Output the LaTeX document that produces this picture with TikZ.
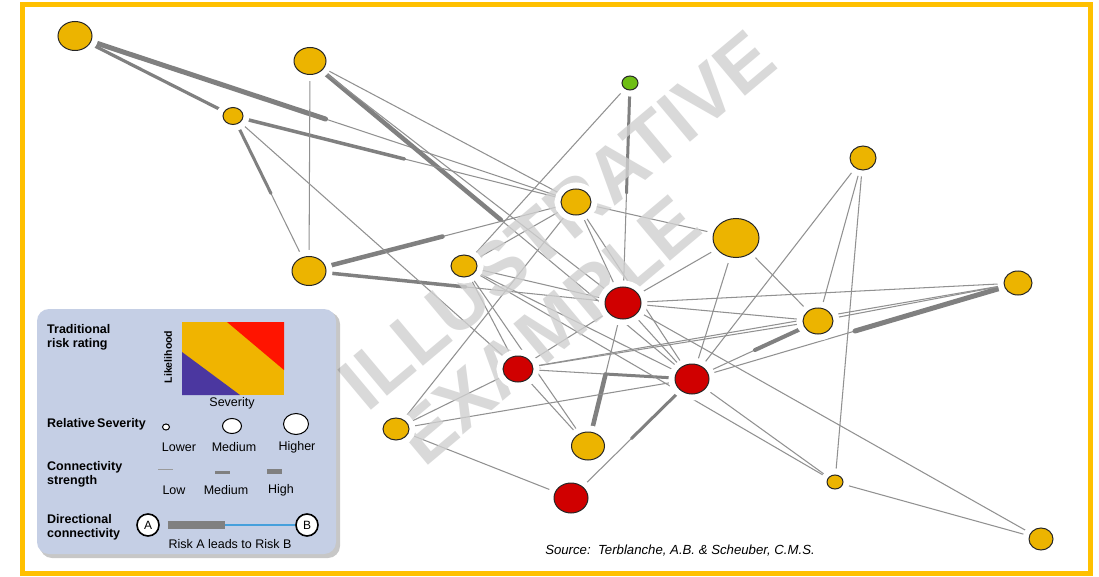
\documentclass[tikz,border=0pt]{standalone}
\usepackage{fontspec}
\setmainfont{Liberation Sans}
\usetikzlibrary{shapes.geometric,calc}
\definecolor{nyellow}{RGB}{236,180,0}
\definecolor{nred}{RGB}{208,0,0}
\definecolor{ngreen}{RGB}{110,190,20}
\definecolor{egray}{RGB}{128,128,128}
\definecolor{tgray}{RGB}{145,145,145}
\definecolor{framecol}{RGB}{255,192,0}
\definecolor{legbg}{RGB}{197,207,229}
\definecolor{mpurple}{RGB}{75,55,160}
\definecolor{mred}{RGB}{255,20,0}
\definecolor{myellow}{RGB}{240,180,0}
\definecolor{wmcol}{RGB}{208,208,208}
\definecolor{dirblue}{RGB}{70,160,220}
\pgfdeclarelayer{edges}
\pgfdeclarelayer{wmlayer}
\pgfsetlayers{edges,wmlayer,main}
\newcommand{\lnk}[2]{\draw[thinE] (#1.center) -- (#2.center);}
\newcommand{\dlnk}[3]{\draw[thinE] (#1.center) -- (#2.center);
  \draw[thickE, line width=#3] (#1.center) -- ($(#1.center)!0.5!(#2.center)$);}
\begin{document}
\begin{tikzpicture}[x=1pt,y=-1pt,
  risk/.style={ellipse, draw=black!85, line width=1pt, inner sep=0pt,
    preaction={draw=white, line width=13pt}},
  ry/.style={risk, fill=nyellow},
  rr/.style={risk, fill=nred},
  rg/.style={risk, fill=ngreen},
  thinE/.style={draw=tgray, line width=1.05pt},
  thickE/.style={draw=egray, line cap=round},
  lbl/.style={font=\fontsize{12.5}{13.5}\selectfont\bfseries, align=left, anchor=west, inner sep=0pt},
  ltx/.style={font=\fontsize{12.5}{13.5}\selectfont, inner sep=0pt},
  wmk/.style={font=\fontsize{76}{76}\selectfont\bfseries, text=wmcol, opacity=0.8, inner sep=0pt},
  sev/.style={ellipse, draw=black, fill=white, line width=1pt, inner sep=0pt},
  ab/.style={circle, draw=black, fill=white, line width=1.6pt, inner sep=0pt, minimum size=22pt,
    font=\fontsize{12}{12}\selectfont}
]
\useasboundingbox (0,0) rectangle (1099,577);

% risk nodes
\node[ry, minimum width=34, minimum height=29] (n1) at (75,36) {};
\node[ry, minimum width=32, minimum height=27] (n2) at (310,61) {};
\node[ry, minimum width=20, minimum height=17] (n3) at (233,116) {};
\node[rg, minimum width=16, minimum height=14] (g) at (630,83) {};
\node[ry, minimum width=26, minimum height=24] (n5) at (863,158) {};
\node[ry, minimum width=30, minimum height=26] (n6) at (576,202) {};
\node[ry, minimum width=46, minimum height=39] (n7) at (736,238) {};
\node[ry, minimum width=34, minimum height=29] (n8) at (309,271) {};
\node[ry, minimum width=26, minimum height=22] (n9) at (464,266) {};
\node[ry, minimum width=28, minimum height=24] (n10) at (1018,283) {};
\node[rr, minimum width=36, minimum height=32] (r1) at (623,303) {};
\node[ry, minimum width=30, minimum height=26] (n12) at (818,321) {};
\node[rr, minimum width=30, minimum height=26] (r2) at (518,369) {};
\node[rr, minimum width=34, minimum height=30] (r3) at (692,379) {};
\node[ry, minimum width=26, minimum height=22] (n15) at (396,429) {};
\node[ry, minimum width=33, minimum height=28] (n16) at (588,446) {};
\node[rr, minimum width=34, minimum height=30] (r4) at (571,498) {};
\node[ry, minimum width=16, minimum height=14] (n18) at (835,482) {};
\node[ry, minimum width=24, minimum height=22] (n19) at (1041,539) {};

\begin{pgfonlayer}{edges}
\fill[white] (0,0) rectangle (1099,577);
% directional (strong) links
\dlnk{n1}{n6}{5pt}
\draw[thickE, line width=3.2pt] (n1.center) -- (n3.center);
\dlnk{n2}{r3}{4.5pt}
\dlnk{n3}{n6}{3.5pt}
\dlnk{n3}{n8}{3pt}
\dlnk{n8}{n6}{4.5pt}
\dlnk{n8}{r1}{3.5pt}
\dlnk{g}{r1}{3pt}
\dlnk{n16}{r1}{4.5pt}
\dlnk{r3}{r4}{3pt}
\dlnk{r3}{r2}{3pt}
\dlnk{n12}{r3}{4pt}
\dlnk{n10}{r3}{5pt}
% weak links
\lnk{n2}{n8}
\lnk{n2}{n6}
\lnk{n2}{r1}
\lnk{n3}{r2}
\lnk{g}{n9}
\lnk{n6}{n9}
\lnk{n6}{n15}
\lnk{n6}{r1}
\lnk{n6}{r3}
\lnk{n6}{n7}
\lnk{n9}{r1}
\lnk{n9}{r2}
\lnk{n9}{r3}
\lnk{n9}{n16}
\lnk{n9}{n18}
\lnk{r2}{r1}
\lnk{r2}{n15}
\lnk{r2}{n16}
\lnk{r2}{n12}
\lnk{r2}{n10}
\lnk{n15}{r3}
\lnk{n15}{r4}
\lnk{n7}{r1}
\lnk{n7}{r3}
\lnk{n7}{n12}
\lnk{n5}{r3}
\lnk{n5}{n12}
\lnk{n5}{n18}
\lnk{r1}{n10}
\lnk{r1}{n12}
\lnk{r1}{r3}
\lnk{r1}{n19}
\lnk{r3}{n18}
\lnk{n18}{n19}
\lnk{n12}{n10}
\end{pgfonlayer}

\begin{pgfonlayer}{wmlayer}
\node[wmk, rotate=40] (wm1) at (557,220) {ILLUSTRATIVE};
\node[wmk, rotate=40] (wm2) at (548,330) {EXAMPLE};
\end{pgfonlayer}

% legend
\fill[black, opacity=0.22, rounded corners=12pt] (40,312) rectangle (340,558);
\fill[legbg, rounded corners=12pt] (37,309) rectangle (336,554);
\fill[myellow] (182,322) rectangle (284,395);
\fill[mred] (227,322) -- (284,322) -- (284,370) -- cycle;
\fill[mpurple] (182,352) -- (182,395) -- (240,395) -- cycle;
\node[lbl] (l1) at (47,337.5) {Traditional\\risk rating};
\node[font=\fontsize{10.5}{11}\selectfont\bfseries, rotate=90, inner sep=0pt] (lk) at (168,357) {Likelihood};
\node[ltx] (sv) at (232,403) {Severity};
\node[lbl] (l2) at (47,424) {Relative\,Severity};
\node[sev, minimum width=7, minimum height=6] (c1) at (166,427) {};
\node[sev, minimum width=19, minimum height=15] (c2) at (232,426) {};
\node[sev, minimum width=25, minimum height=21] (c3) at (296,424) {};
\node[ltx] (t1) at (179,447) {Lower};
\node[ltx] (t2) at (234,447) {Medium};
\node[ltx] (t3) at (297,447) {Higher};
\node[lbl] (l3) at (47,474.5) {Connectivity\\strength};
\coordinate (b1a) at (158,469.5); \coordinate (b1b) at (173,469.5);
\coordinate (b2a) at (215,472.5); \coordinate (b2b) at (230,472.5);
\coordinate (b3a) at (267,471.5); \coordinate (b3b) at (282,471.5);
\draw[egray!80, line width=1pt] (b1a) -- (b1b);
\draw[egray, line width=2.6pt] (b2a) -- (b2b);
\draw[egray, line width=4.5pt] (b3a) -- (b3b);
\node[ltx] (t4) at (174,490) {Low};
\node[ltx] (t5) at (226,490) {Medium};
\node[ltx] (t6) at (281,490) {High};
\node[lbl] (l4) at (47,527.5) {Directional\\connectivity};
\node[ab] (na) at (148,525) {A};
\node[ab] (nb) at (307,525) {B};
\coordinate (mid) at (225,525);
\draw[dirblue, line width=1.3pt] (mid) -- (nb.west);
\draw[egray, line width=8pt] (na.east) ++(8,0) -- (mid);
\node[ltx] (t7) at (230,544) {Risk A leads to Risk B};

% source
\node[font=\fontsize{13.2}{14}\selectfont\itshape, inner sep=0pt] (src) at (680,551)
  {Source:\ \ Terblanche, A.B. \& Scheuber, C.M.S.};

% frame
\draw[framecol, line width=5pt] (22,5) rectangle (1090,573);
\end{tikzpicture}
\end{document}
